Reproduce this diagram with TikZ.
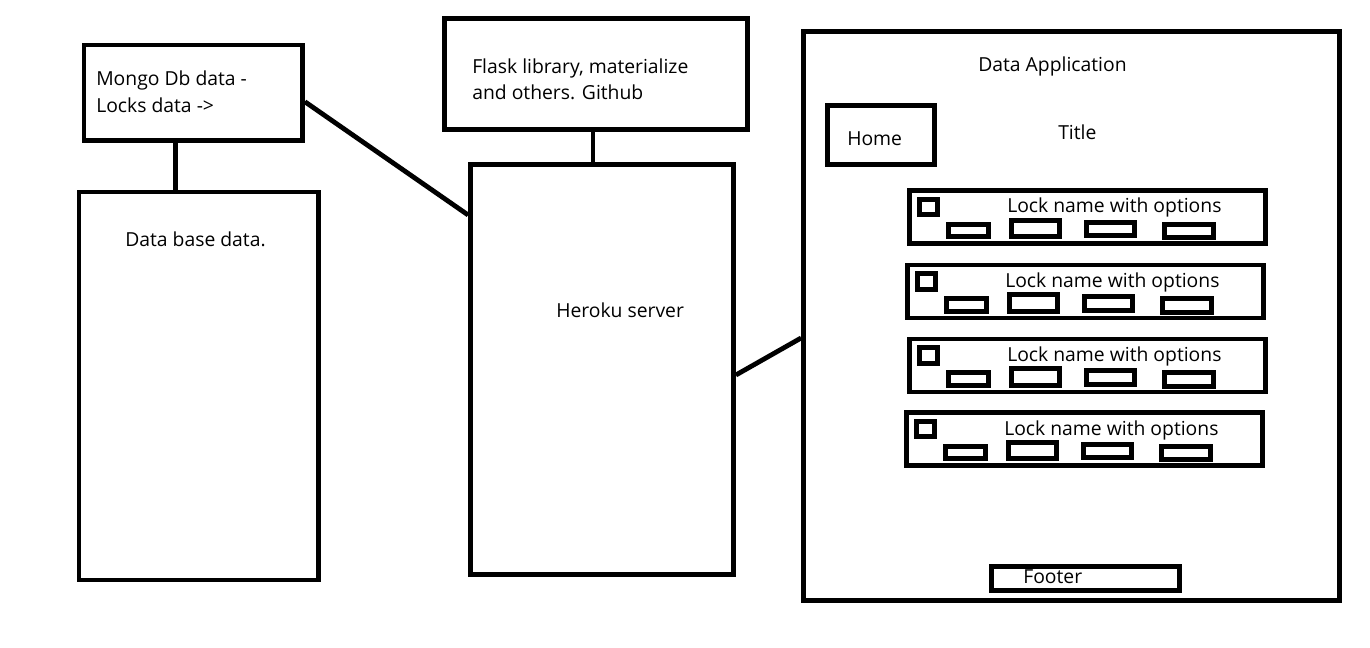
\documentclass[tikz,border=0pt]{standalone}
\usepackage{fontspec}
\setmainfont{Open Sans}
\usetikzlibrary{calc}
\begin{document}
\begin{tikzpicture}[x=0.75pt,y=-0.75pt,
  box/.style={draw, line width=3.6pt, rectangle, inner sep=0pt},
  sz/.style 2 args={minimum width={#1*0.75pt}, minimum height={#2*0.75pt}},
  txt/.style={inner sep=0pt, anchor=base west, font=\fontsize{14.5}{17}\selectfont},
  link/.style={line width=3.6pt}]
\useasboundingbox (0,0) rectangle (1370,648);
\fill[white] (0,0) rectangle (1370,648);

% boxes
\node[box, sz={218.5}{95.5}] (mongo) at (193.25,92.75) {};
\node[box, sz={239.5}{388}] (db) at (198.75,386) {};
\node[box, sz={303}{111}] (flask) at (596,74) {};
\node[box, sz={263}{410}] (heroku) at (602,369.5) {};
\node[box, sz={536}{569}] (app) at (1071.5,316) {};
\node[box, sz={107}{59}] (home) at (881,135) {};
\node[box, sz={188}{24}] (footer) at (1085.5,578.5) {};

% texts
\node[txt] (mongo1) at (96,86) {Mongo Db data -};
\node[txt] (mongo2) at (96,113) {Locks data ->};
\node[txt] (dbtxt) at (125,247) {Data base data.};
\node[txt] (flask1) at (472,74) {Flask library, materialize};
\node[txt] (flask2) at (472,100) {and others. Github};
\node[txt] (herokutxt) at (556,318) {Heroku server};
\node[txt] (apptxt) at (978,72) {Data Application};
\node[txt] (titletxt) at (1058,140) {Title};
\node[txt] (hometxt) at (847,146) {Home};
\node[txt] (footertxt) at (1023,583) {Footer};

% lock rows
\foreach \i/\dx/\dy in {1/0/0, 2/-2/74.5, 3/0/148.5, 4/-3/222} {
  \begin{scope}[shift={(\dx,\dy)}]
    \node[box, sz={356}{53}] (lock\i) at (1087.5,217) {};
    \node[box, sz={18.5}{15.5}] (chk\i) at (928.5,207) {};
    \node[box, sz={40.5}{12.5}] (opta\i) at (968.5,230.5) {};
    \node[box, sz={48.5}{16.5}] (optb\i) at (1035.5,228.5) {};
    \node[box, sz={48.5}{13.5}] (optc\i) at (1110.5,229) {};
    \node[box, sz={49.5}{13.5}] (optd\i) at (1189,231) {};
    \node[txt] (locktxt\i) at (1007,213) {Lock name with options};
  \end{scope}
}

% connectors
\draw[link] ($(mongo.south)+(-17.75,0)$) -- ($(db.north)+(-23.25,0)$);
\draw[link] ($(mongo.east)+(0,9)$) -- ($(heroku.west)+(0,-154.5)$);
\draw[link] ($(flask.south)+(-3,0)$) -- ($(heroku.north)+(-9,0)$);
\draw[link] ($(heroku.east)+(0,5.5)$) -- ($(app.west)+(0,22)$);
\end{tikzpicture}
\end{document}
